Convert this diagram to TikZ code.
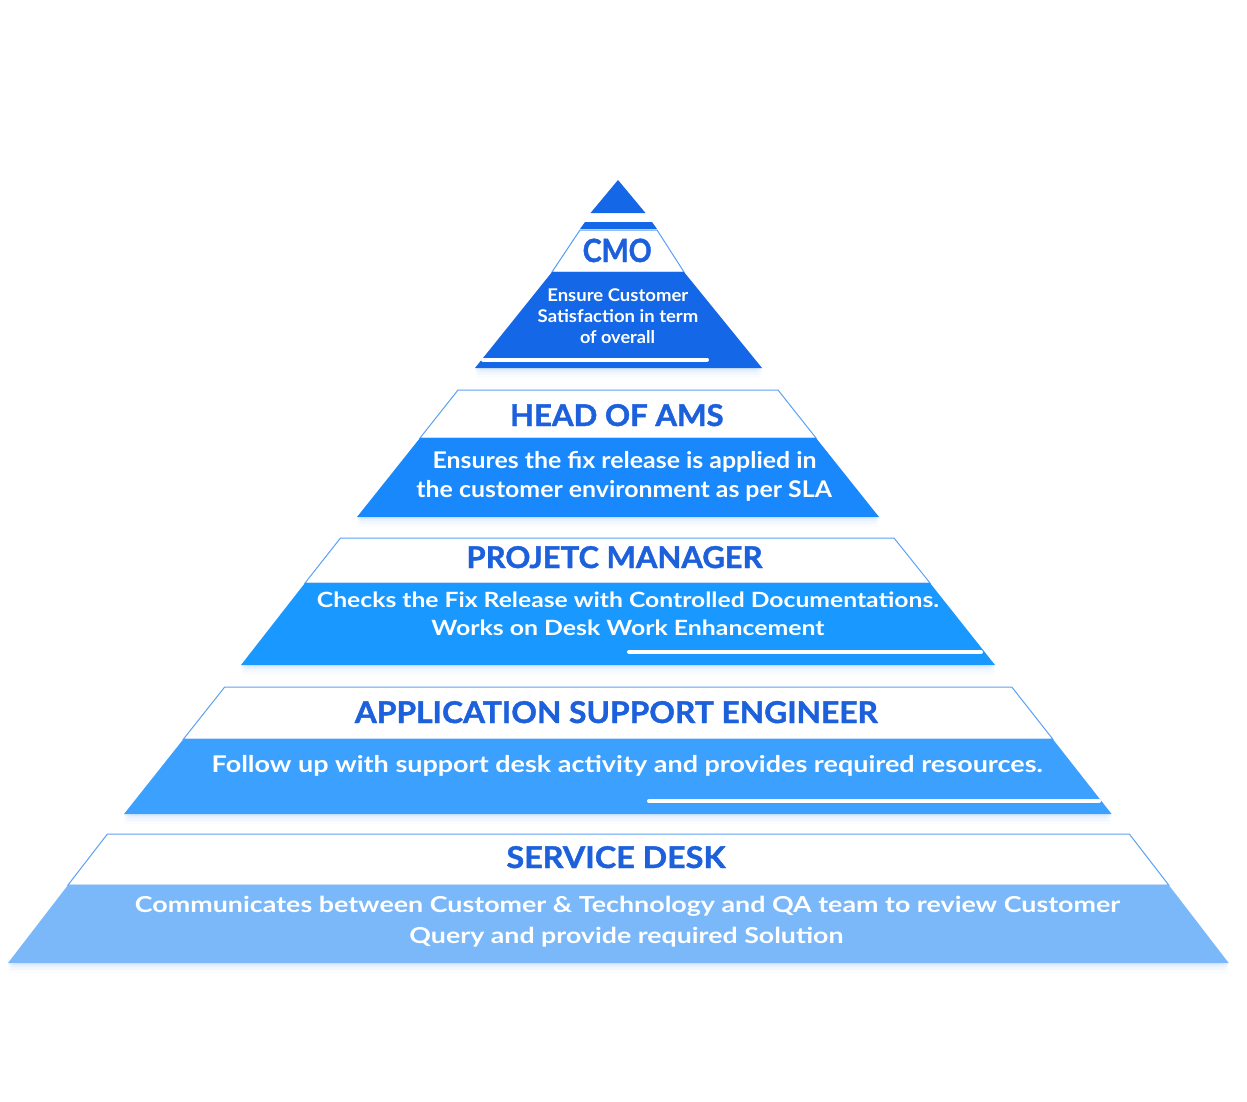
\documentclass[tikz,border=0pt]{standalone}
\usepackage{fontspec}
\setmainfont{Lato}
\newfontfamily\titlefont[BoldFeatures={FakeBold=1.3}]{Lato}
\usepackage{graphicx}
\definecolor{cone}{RGB}{20,103,230}
\definecolor{ctwo}{RGB}{24,136,252}
\definecolor{cthree}{RGB}{25,152,255}
\definecolor{cfour}{RGB}{60,160,255}
\definecolor{cfive}{RGB}{122,184,250}
\definecolor{titleblue}{RGB}{28,96,220}
\definecolor{bandline}{RGB}{90,160,245}
\definecolor{glow}{RGB}{120,175,250}
\newcommand{\fitw}[2]{\resizebox{#1pt}{\height}{#2}}
\begin{document}
\begin{tikzpicture}[x=1pt,y=-1pt,
  band/.style={fill=white,draw=bandline,line width=1pt},
  shine/.style={white,line width=4pt,line cap=round},
  lbl/.style={anchor=base,inner sep=0pt,outer sep=0pt},
  title/.style={lbl,text=titleblue,font=\titlefont\bfseries\fontsize{30}{36}\selectfont},
  desc/.style={lbl,text=white,font=\bfseries}]
\useasboundingbox (0,0) rectangle (1247,1101);

% ---------- soft shadows ----------
\foreach \d/\o in {2/0.12,4/0.09,7/0.06,10/0.03}{
  \fill[glow,opacity=\o,shift={(0,\d)}] (552,272) -- (684,272) -- (762,368) -- (475,368) -- cycle;
  \fill[glow,opacity=\o,shift={(0,\d)}] (420,438) -- (816,438) -- (879,517) -- (357,517) -- cycle;
  \fill[glow,opacity=\o,shift={(0,\d)}] (305,583) -- (930,583) -- (995,665) -- (241,665) -- cycle;
  \fill[glow,opacity=\o,shift={(0,\d)}] (183.5,739) -- (1052.7,739) -- (1111.6,814) -- (124,814) -- cycle;
  \fill[glow,opacity=\o,shift={(0,\d)}] (68,885) -- (1168.7,885) -- (1228.7,963) -- (8,963) -- cycle;
}

% ---------- tier 1 : CMO ----------
\fill[cone] (618,180) -- (645.5,213) -- (590.5,213) -- cycle;
\fill[cone] (585,222) -- (652,222) -- (657,229) -- (580,229) -- cycle;
\draw[band] (580,230) -- (657,230) -- (684,272) -- (552,272) -- cycle;
\fill[cone] (552,272) -- (684,272) -- (762,368) -- (475,368) -- cycle;
\draw[shine] (483,359.5) -- (707,359.5);
\node[title,font=\titlefont\bfseries\fontsize{32}{38}\selectfont] (t1) at (617.2,262) {\fitw{69}{CMO}};
\node[desc,font=\bfseries\fontsize{17.5}{21}\selectfont] (d1a) at (617.8,301) {\fitw{141}{Ensure Customer}};
\node[desc,font=\bfseries\fontsize{17.5}{21}\selectfont] (d1b) at (618,322) {\fitw{160.6}{Satisfaction in term}};
\node[desc,font=\bfseries\fontsize{17.5}{21}\selectfont] (d1c) at (617.5,343) {\fitw{75}{of overall}};

% ---------- tier 2 : HEAD OF AMS ----------
\draw[band] (458,390) -- (778,390) -- (816,438) -- (420,438) -- cycle;
\fill[ctwo] (420,438) -- (816,438) -- (879,517) -- (357,517) -- cycle;
\node[title] (t2) at (616.8,426) {\fitw{213.6}{HEAD OF AMS}};
\node[desc,font=\bfseries\fontsize{23}{28}\selectfont] (d2a) at (624.6,468) {\fitw{384}{Ensures the fix release is applied in}};
\node[desc,font=\bfseries\fontsize{23}{28}\selectfont] (d2b) at (624.2,497) {\fitw{415.5}{the customer environment as per SLA}};

% ---------- tier 3 : PROJETC MANAGER ----------
\draw[band] (340.5,538) -- (894,538) -- (930,583) -- (305,583) -- cycle;
\fill[cthree] (305,583) -- (930,583) -- (995,665) -- (241,665) -- cycle;
\draw[shine] (629,652) -- (981,652);
\node[title] (t3) at (614.5,568) {\fitw{296}{PROJETC MANAGER}};
\node[desc,font=\bfseries\fontsize{21}{26}\selectfont] (d3a) at (628,607) {\fitw{622}{Checks the Fix Release with Controlled Documentations.}};
\node[desc,font=\bfseries\fontsize{21}{26}\selectfont] (d3b) at (628,635) {\fitw{393}{Works on Desk Work Enhancement}};

% ---------- tier 4 : APPLICATION SUPPORT ENGINEER ----------
\draw[band] (224.7,687) -- (1011.8,687) -- (1052.7,739) -- (183.5,739) -- cycle;
\fill[cfour] (183.5,739) -- (1052.7,739) -- (1111.6,814) -- (124,814) -- cycle;
\draw[shine] (649,801) -- (1099,801);
\node[title] (t4) at (616.3,723) {\fitw{523}{APPLICATION SUPPORT ENGINEER}};
\node[desc,font=\bfseries\fontsize{23}{28}\selectfont] (d4) at (627.2,772) {\fitw{831}{Follow up with support desk activity and provides required resources.}};

% ---------- tier 5 : SERVICE DESK ----------
\draw[band] (107.4,834) -- (1129.3,834) -- (1168.7,885) -- (68,885) -- cycle;
\fill[cfive] (68,885) -- (1168.7,885) -- (1228.7,963) -- (8,963) -- cycle;
\node[title] (t5) at (616,868) {\fitw{219}{SERVICE DESK}};
\node[desc,font=\bfseries\fontsize{22}{27}\selectfont] (d5a) at (627.5,912) {\fitw{985}{Communicates between Customer \& Technology and QA team to review Customer}};
\node[desc,font=\bfseries\fontsize{22}{27}\selectfont] (d5b) at (626.5,943) {\fitw{434}{Query and provide required Solution}};
\end{tikzpicture}
\end{document}
